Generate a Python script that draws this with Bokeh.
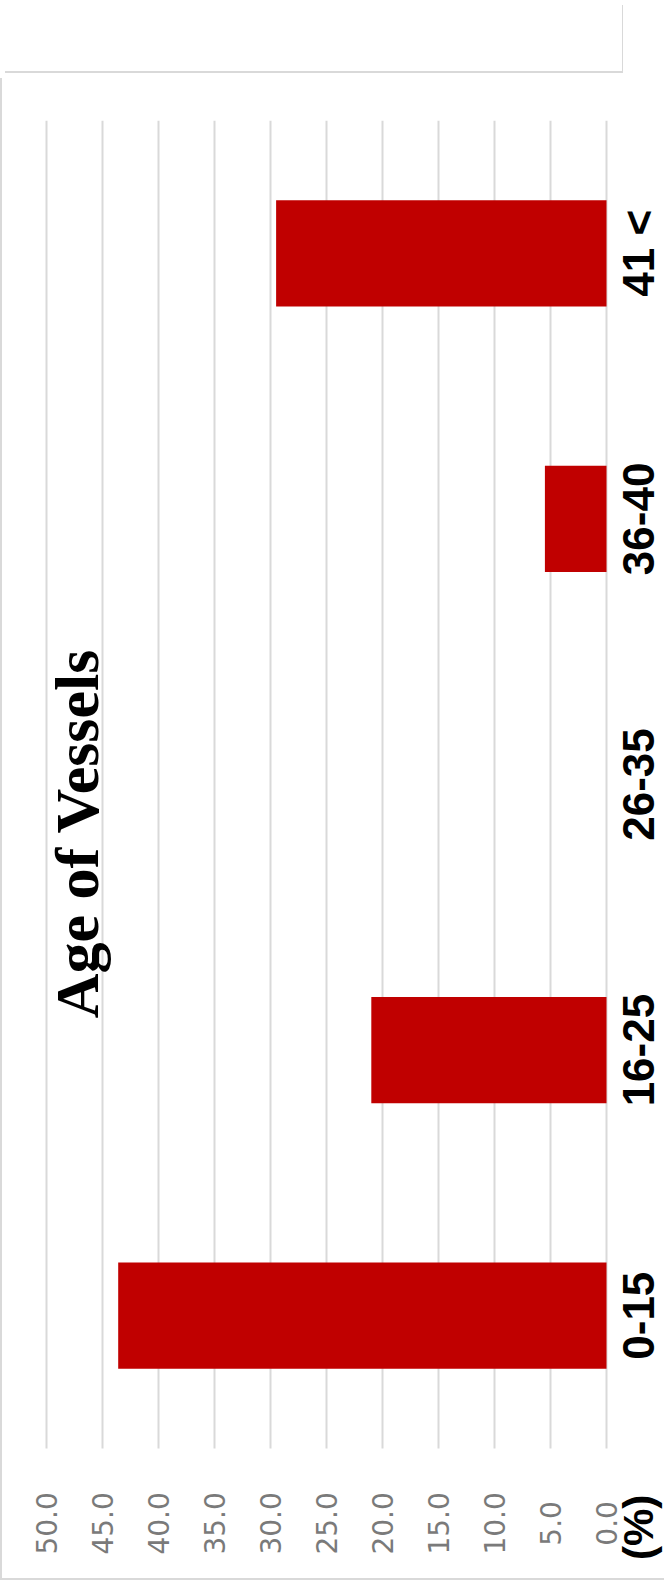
import math
from bokeh.plotting import figure
from bokeh.models import Range1d, Div
from bokeh.layouts import column
from bokeh.core.properties import value
from bokeh.embed import file_html
from bokeh.resources import INLINE

# ---- data ----
categories = ["0-15", "16-25", "26-35", "36-40", "41 <"]
percentages = [43.6, 21.0, 0.0, 5.5, 29.5]
tick_values = [0, 5, 10, 15, 20, 25, 30, 35, 40, 45, 50]
tick_labels = ["0.0", "5.0", "10.0", "15.0", "20.0", "25.0", "30.0", "35.0", "40.0", "45.0", "50.0"]
title_text = "Age of  Vessels"
unit_text = "(%)"

BAR = "#c00000"
GRID = "#d9d9d9"

n = len(categories)
y_pos = [i + 0.5 for i in range(n)]          # slot centres on the category scale

p = figure(
    width=664, height=1502,
    x_range=Range1d(53.93, -5.357),
    y_range=Range1d(-0.497, n),
    output_backend="svg", toolbar_location=None,
    x_axis_location=None, y_axis_location=None, title=None,
    min_border_left=0, min_border_right=0,
    min_border_top=42, min_border_bottom=0,
    styles={"border-left": "2px solid #d9d9d9", "border-bottom": "2px solid #d9d9d9"},
)
p.outline_line_color = None
p.background_fill_color = "white"
p.border_fill_color = "white"
p.xgrid.visible = False
p.ygrid.visible = False

# value gridlines (span the category area only)
p.segment(x0=tick_values, x1=tick_values, y0=0, y1=n,
          line_color=GRID, line_width=2)

# bars
p.hbar(y=y_pos, left=0, right=percentages, height=0.4,
       fill_color=BAR, line_color=None)

# value tick labels
p.text(x=tick_values, y=-0.282, text=tick_labels, angle=math.pi / 2,
       anchor="center",
       text_font=value("DejaVu Sans"), text_font_size="28px",
       text_color="#7a7a7a")

# category labels
p.text(x=-2.857, y=y_pos, text=categories, angle=math.pi / 2,
       anchor="center",
       text_font=value("Liberation Sans"), text_font_style="bold",
       text_font_size="44px", text_color="black")

# chart title inside plot area
p.text(x=[47.32], y=[2.345], text=[title_text], angle=math.pi / 2,
       anchor="center",
       text_font=value("Liberation Serif"), text_font_style="bold",
       text_font_size="62px", text_color="black")

# unit label
p.text(x=[-2.857], y=[-0.297], text=[unit_text], angle=math.pi / 2,
       anchor="center",
       text_font=value("Liberation Sans"), text_font_style="bold",
       text_font_size="42px", text_color="black")

top = Div(text="", width=618, height=68,
          styles={"border-right": "1px solid #d9d9d9", "border-bottom": "2px solid #d9d9d9"})

layout = column(top, p, spacing=0)
open("out.html", "w").write(file_html(layout, INLINE))
